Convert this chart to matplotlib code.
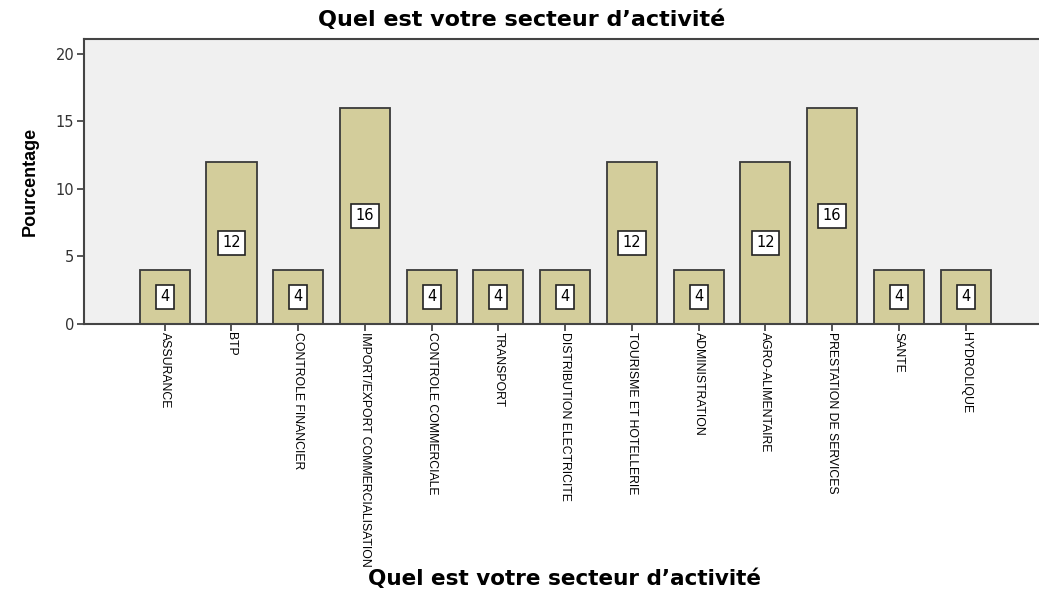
import matplotlib
matplotlib.use("Agg")
import numpy as np
import matplotlib.pyplot as plt
from matplotlib import font_manager

sectors = ["ASSURANCE", "BTP", "CONTROLE FINANCIER", "IMPORT/EXPORT COMMERCIALISATION",
           "CONTROLE COMMERCIALE", "TRANSPORT", "DISTRIBUTION ELECTRICITE",
           "TOURISME ET HOTELLERIE", "ADMINISTRATION", "AGRO-ALIMENTAIRE",
           "PRESTATION DE SERVICES", "SANTE", "HYDROLIQUE"]
pct = [4, 12, 4, 16, 4, 4, 4, 12, 4, 12, 16, 4, 4]
yticks = [0, 5, 10, 15, 20]

bar_color = "#d3cd9b"
edge = "#3a3a3a"

installed = {f.name for f in font_manager.fontManager.ttflist}
if "Liberation Sans Narrow" in installed:
    narrow, tick_size = "Liberation Sans Narrow", 10
else:
    narrow, tick_size = "Liberation Sans", 8.8

fig = plt.figure(figsize=(10.39, 5.99), dpi=100)
ax = fig.add_axes([84 / 1039, 1 - 324 / 599, 1 - 84 / 1039, 285 / 599])
ax.set_facecolor("#f0f0f0")

x = np.arange(len(sectors))
ax.bar(x, pct, 0.75, color=bar_color, edgecolor=edge, linewidth=1.3, zorder=2)

for i, v in enumerate(pct):
    ax.text(i, v / 2, str(v), ha="center", va="center", fontsize=10.5,
            family="DejaVu Sans", zorder=3,
            bbox=dict(boxstyle="square,pad=0.3", fc="white", ec="#222222", lw=1.2))

ax.set_xlim(-1.21, 13.1)
ax.set_ylim(0, 21.1)
ax.set_yticks(yticks)
ax.set_yticklabels([str(t) for t in yticks], fontsize=10.5, color="#333333")
ax.set_xticks(x)
ax.set_xticklabels(sectors, rotation=-90, fontsize=tick_size, family=narrow, va="top")
ax.tick_params(axis="x", length=5, width=1.2, color=edge, pad=1)
ax.tick_params(axis="y", length=5, width=1.2, color=edge, pad=2)

for s in ["left", "bottom", "top"]:
    ax.spines[s].set_color("#444444")
    ax.spines[s].set_linewidth(1.5)
ax.spines["right"].set_visible(False)

ax.set_ylabel("Pourcentage", fontsize=13, fontweight="bold", family="Liberation Sans", labelpad=12)
fig.text(522 / 1039, 1 - 20 / 599, "Quel est votre secteur d\u2019activité", ha="center",
         va="center", fontsize=16, fontweight="bold", family="DejaVu Sans")
fig.text(565 / 1039, 1 - 579 / 599, "Quel est votre secteur d\u2019activité", ha="center",
         va="center", fontsize=15.5, fontweight="bold", family="DejaVu Sans")

fig.savefig("out.png", dpi=100)
